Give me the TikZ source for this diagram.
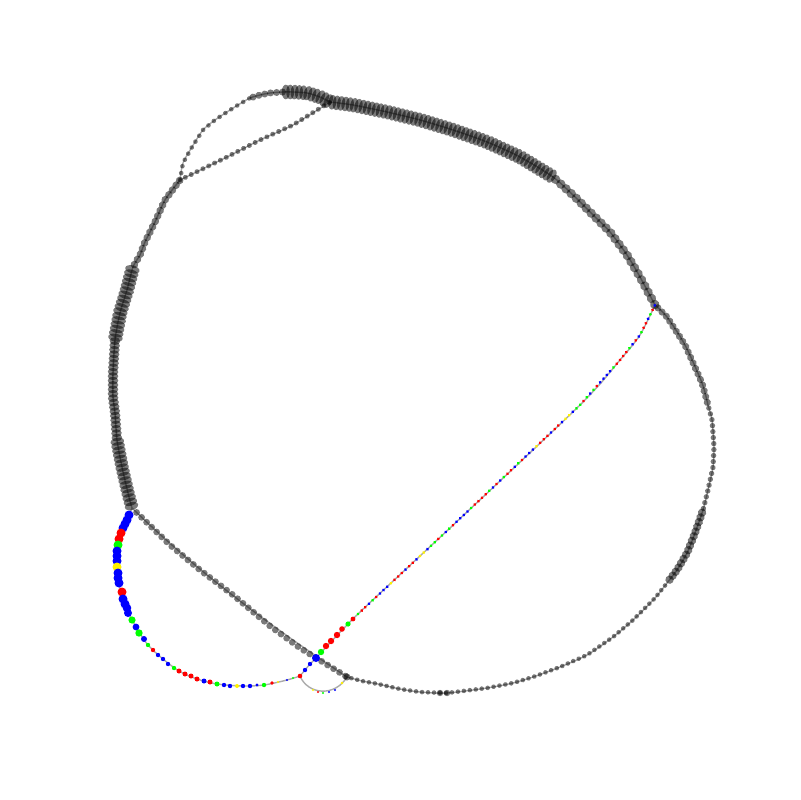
\documentclass[tikz,border=0pt]{standalone}
\usetikzlibrary{decorations.markings}
\def\colseq{{"blue","green","red","red","blue","green","red","blue","blue","blue","yellow","red","red","red","blue","red","red","blue","yellow","yellow","blue","green","green","red","green","blue","green","red","blue","blue","blue","blue","green","red","red","red","red","green","blue","red"}}
\tikzset{
  link/.style={draw=black!33, line width=0.35pt},
  gfill/.style={fill=black, fill opacity=0.52},
  gdots/.style n args={4}{postaction={decorate}, decoration={markings,
     mark=between positions #1 and 1 step #2 with {\fill[gfill] (0,0) ellipse (#3 and #4);}}},
  cdots/.style={postaction={decorate}, decoration={markings,
     mark=between positions 0 and 1 step 1.25pt with {%
       \pgfmathtruncatemacro\mk{mod(\pgfkeysvalueof{/pgf/decoration/mark info/sequence number},40)}%
       \pgfmathsetmacro\dc{\colseq[\mk]}%
       \fill[fill=\dc] (0,0) circle (1.6);}}},
}
\begin{document}
\begin{tikzpicture}[x=0.25pt,y=-0.25pt]
\path[use as bounding box] (0,0) rectangle (800,800);
% junctions
\coordinate (A) at (132,508);
\coordinate (B) at (180,180);
\coordinate (C) at (330,102);
\coordinate (D) at (655,305);
\coordinate (E) at (347,677);
\coordinate (F) at (300,676);
\coordinate (G) at (316,658);
% ---------- links ----------
\draw[link] plot[smooth] coordinates {(A) (128,493) (122,467) (117,440) (115,413) (113,397) (113,373) (115,340) (120,313) (127,290) (133,267) (140,255) (145,242) (155,222) (165,200) (B)};
\draw[link] plot[smooth] coordinates {(B) (183,163) (192,147) (203,130) (215,120) (227,112) (238,105) (250,98) (260,95) (270,93) (283,92) (293,92) (307,93) (320,97) (C)};
\draw[link] plot[smooth] coordinates {(C) (353,105) (387,112) (420,120) (453,130) (487,142) (520,157) (553,177) (575,197) (593,215) (610,232) (627,255) (640,277) (D)};
\draw[link] plot[smooth] coordinates {(B) (227,157) (260,140) (293,125) (C)};
\draw[link] plot[smooth] coordinates {(D) (667,317) (685,345) (702,383) (708,405) (712,420) (714,447) (713,467) (708,490) (703,510) (695,533) (687,553) (677,570) (667,583) (655,598) (633,620) (613,637) (587,655) (560,667) (533,677) (513,683) (487,688) (447,693) (420,692) (400,689) (378,684) (362,681) (E)};
\draw[link] (A) .. controls (202,576) and (271,626) .. (E);
\draw[link] plot[smooth] coordinates {(A) (121,535) (117,560) (119,583) (125,605) (136,627) (148,645) (163,659) (179,671) (197,679) (217,684) (243,686) (264,685) (287,680) (F)};
\draw[link] plot[smooth] coordinates {(F) (305,670) (310,664) (G) (358,614) (450,528) (580,405) (620,360) (640,335) (D)};
\draw[link] (F) .. controls (308,695) and (335,697) .. (E);
% ---------- grey dots ----------
\path[gdots={0.5pt}{1.1pt}{4}{6.8}] (A) -- (128,493) -- (122,467) -- (117,440);
\path[gdots={0.6pt}{1.1pt}{4}{5.3}] (117,440) -- (115,413) -- (113,397) -- (113,373) -- (115,340);
\path[gdots={0.6pt}{1.1pt}{4}{7.3}] (115,340) -- (120,313) -- (127,290) -- (133,267);
\path[gdots={0.7pt}{1.5pt}{3.8}{3.8}] (133,267) -- (140,255) -- (145,242) -- (155,222) -- (165,200) -- (B);
\path[gdots={0}{1.75pt}{2.3}{2.3}] (B) -- (183,163) -- (192,147) -- (203,130) -- (215,120) -- (227,112) -- (238,105) -- (250,98);
\path[gdots={0.8pt}{1.5pt}{3.5}{3.5}] (250,98) -- (260,95) -- (270,93) -- (283,92);
\path[gdots={0.7pt}{1.1pt}{4}{7.3}] (283,92) -- (293,92) -- (307,93) -- (320,97) -- (C) -- (353,105) -- (387,112) -- (420,120) -- (453,130) -- (487,142) -- (520,157) -- (553,177);
\path[gdots={0.9pt}{1.75pt}{4.7}{4.7}] (553,177) -- (575,197) -- (593,215) -- (610,232) -- (627,255) -- (640,277) -- (D);
\path[gdots={1.5pt}{1.625pt}{2.5}{2.5}] (B) -- (227,157) -- (260,140) -- (293,125) -- (C);
\path[gdots={1pt}{1.5pt}{3.6}{3.6}] (D) -- (667,317) -- (685,345) -- (702,383) -- (708,405);
\path[gdots={0.8pt}{1.5pt}{2.7}{2.7}] (708,405) -- (712,420) -- (714,447) -- (713,467) -- (708,490) -- (703,510);
\path[gdots={0.7pt}{1.25pt}{4.2}{4.2}] (703,510) -- (695,533) -- (687,553) -- (677,570) -- (667,583);
\path[gdots={0.8pt}{1.5pt}{2.3}{2.3}] (667,583) -- (655,598) -- (633,620) -- (613,637) -- (587,655) -- (560,667) -- (533,677) -- (513,683) -- (487,688) -- (447,693) -- (420,692) -- (400,689) -- (378,684) -- (362,681) -- (E);
\fill[gfill] (440,693) circle (3.2);
\fill[gfill] (447,693) circle (3.2);
\fill[gfill] (E) circle (3.5);
\path[gdots={1.6pt}{1.75pt}{3.4}{3.4}] (A) -- (170,545) -- (200,570) -- (233,595) -- (270,626) -- (300,648) -- (E);
% ---------- coloured dots ----------
\foreach \x/\y/\c/\r in {
 129/515/blue/4.5, 127/520/blue/4.5, 125/524/blue/4.5, 123/528/blue/4.5, 121/533/red/4.5, 119/539/red/4.5,
 118/545/green/4.5, 117/551/blue/4.5, 117/556/blue/4.5, 117/561/blue/4.5, 117/567/yellow/4.5, 118/573/blue/4.5,
 118/578/blue/4.5, 119/583/blue/4.5, 122/592/red/4.5, 123/599/blue/4.5, 125/604/blue/4.5, 127/608/blue/4.3,
 128/613/blue/4, 132/620/green/3.6, 136/627/blue/3.4, 139/633/green/3.7, 144/639/blue/3,
 148/645/green/2.2, 153/650/red/2.2, 158/655/blue/2.2, 163/659/blue/2.2, 168/664/blue/2.2, 174/668/green/2.2,
 179/671/red/2.5, 185/674/red/2.5, 191/676/red/2.5, 197/679/red/2.5, 204/681/blue/2.5, 210/682/red/2.5,
 217/684/green/2.5, 224/685/blue/2.2, 230/686/blue/2.2, 237/686/yellow/2, 243/686/blue/2.2, 250/686/blue/2.2,
 257/685/blue/1.7, 264/685/green/2.2, 272/683/red/1.9, 278/682/yellow/1.1, 287/680/blue/1.1, 293/678/green/1.1,
 300/676/red/2.3, 305/670/blue/2.2, 310/664/blue/2.2, 316/658/blue/4, 321/652/green/3.2, 326/646/red/3.2,
 331/641/red/3.2, 337/635/red/3.2, 342/629/red/2.8, 348/624/green/2.6, 353/619/red/2.4,
 313/690/yellow/1.1, 318/692/red/1.1, 323/693/green/1.1, 329/692/blue/1.1, 335/690/blue/1.1, 342/683/yellow/1.3}
 \fill[fill=\c] (\x,\y) circle (\r);
\path[cdots] (358,614) -- (450,528) -- (580,405) -- (620,360) -- (640,335) -- (D);
\end{tikzpicture}
\end{document}
